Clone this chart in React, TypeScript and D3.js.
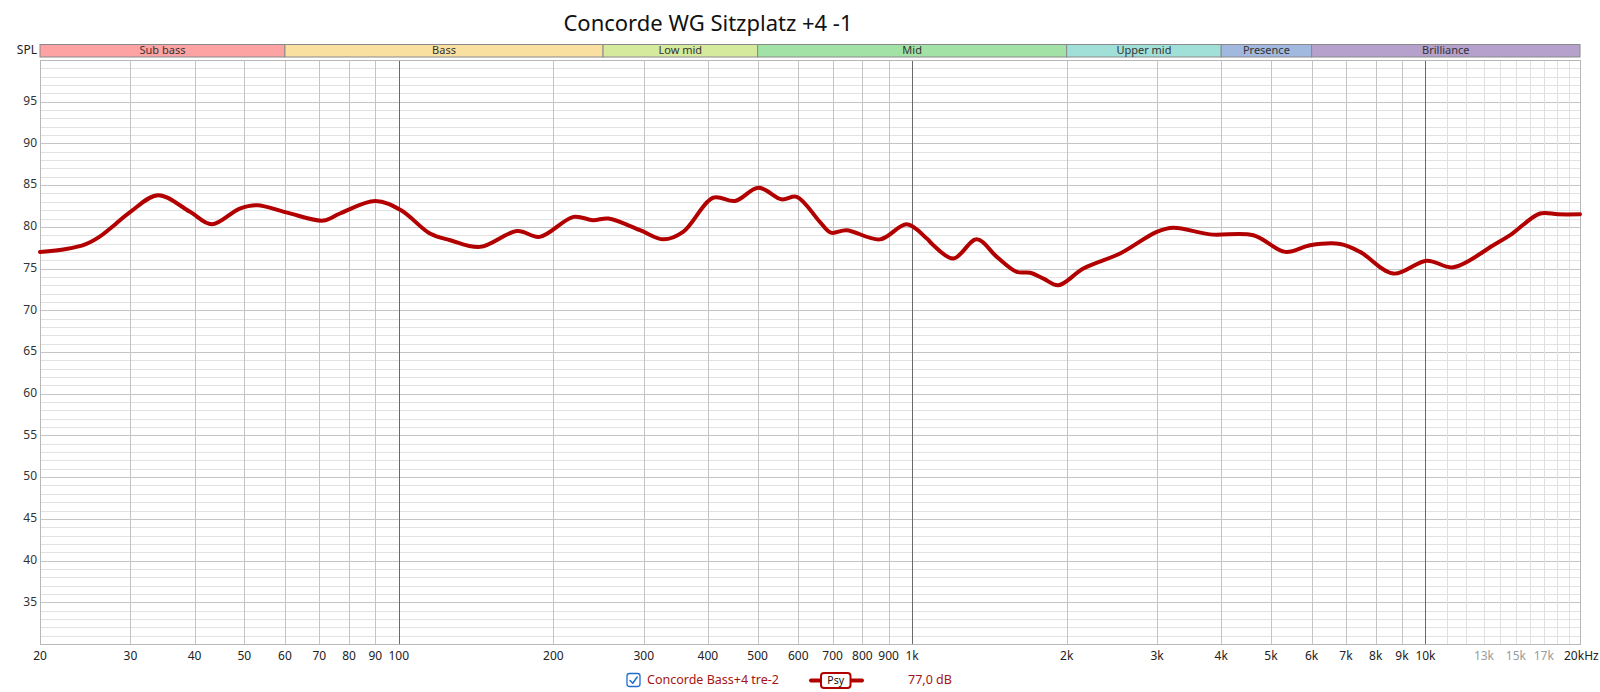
import React from "react";
import * as d3 from "d3";

const TITLE = "Concorde WG Sitzplatz +4 -1";

const FREQS = [20, 22.5, 24.5, 26.1, 27.4, 30, 34, 39.2, 43.2, 49, 53, 60.6, 71.3, 76.8, 90, 101, 115, 126, 144, 170, 188, 219, 239, 256, 295, 328, 358, 410, 452, 502, 557, 596, 661, 695, 745, 866, 976, 1068, 1100, 1203, 1336, 1462, 1599, 1697, 1802, 1926, 2156, 2541, 2996, 3229, 3806, 4621, 5330, 5962, 6819, 7459, 8662, 10057, 11330, 13560, 14620, 16720, 18120, 20000];
const SPL = [77.0, 77.35, 77.9, 78.8, 79.8, 81.8, 83.8, 81.8, 80.3, 82.2, 82.6, 81.7, 80.75, 81.6, 83.1, 82.0, 79.2, 78.4, 77.6, 79.5, 78.8, 81.2, 80.8, 81.0, 79.6, 78.5, 79.4, 83.5, 83.1, 84.7, 83.3, 83.6, 80.6, 79.3, 79.6, 78.5, 80.3, 78.6, 77.8, 76.2, 78.5, 76.4, 74.6, 74.5, 73.8, 73.0, 75.0, 76.8, 79.4, 79.9, 79.1, 79.0, 77.0, 77.8, 77.95, 77.0, 74.4, 75.95, 75.15, 77.8, 79.0, 81.6, 81.5, 81.5];

const BAND_NAMES = ["Sub bass", "Bass", "Low mid", "Mid", "Upper mid", "Presence", "Brilliance"];
const BAND_EDGES = [20, 60, 250, 500, 2000, 4000, 6000, 20000];
const BAND_COLORS = ["#fda3a3", "#f9e0a1", "#d5ea9d", "#a2e2a6", "#a0e0d8", "#a1b8df", "#b5a1cc"];

const GRID_FREQS = [20, 30, 40, 50, 60, 70, 80, 90, 100, 200, 300, 400, 500, 600, 700, 800, 900, 1000, 2000, 3000, 4000, 5000, 6000, 7000, 8000, 9000, 10000, 20000];
const MINOR_FREQS = [11000, 12000, 13000, 14000, 15000, 16000, 17000, 18000, 19000];
const DECADE_FREQS = [100, 1000, 10000];
const X_LABEL_FREQS = [20, 30, 40, 50, 60, 70, 80, 90, 100, 200, 300, 400, 500, 600, 700, 800, 900, 1000, 2000, 3000, 4000, 5000, 6000, 7000, 8000, 9000, 10000];
const X_LABELS = ["20", "30", "40", "50", "60", "70", "80", "90", "100", "200", "300", "400", "500", "600", "700", "800", "900", "1k", "2k", "3k", "4k", "5k", "6k", "7k", "8k", "9k", "10k"];
const X_GRAY_FREQS = [13000, 15000, 17000];
const X_GRAY_LABELS = ["13k", "15k", "17k"];
const Y_TICKS = [35, 40, 45, 50, 55, 60, 65, 70, 75, 80, 85, 90, 95];

const LEGEND_NAME = "Concorde Bass+4 tre-2";
const LEGEND_VALUE = "77,0 dB";

const FONT = "'Noto Sans', 'Open Sans', sans-serif";

export default function App() {
  const W = 1600, H = 692;
  const L = 40, R = 1580, T = 60, B = 644;
  const x = d3.scaleLog().domain([20, 20000]).range([L, R]);
  const y = d3.scaleLinear().domain([30, 100]).range([B, T]);

  const minorY = d3.range(31, 100).filter((v) => v % 5 !== 0);
  const majorY = d3.range(35, 100, 5);

  const line = d3
    .line<number>()
    .x((_, i) => x(FREQS[i]))
    .y((d) => y(d))
    .curve(d3.curveCatmullRom.alpha(0.5));

  const curveColor = "#b20000";

  return (
    <svg width={W} height={H} style={{ position: "absolute", left: 0, top: 0, display: "block", background: "#fff" }} fontFamily={FONT}>
      <rect x={0} y={0} width={W} height={H} fill="#fff" />
      <text x={708} y={31} textAnchor="middle" fontSize={22} fill="#111">{TITLE}</text>

      {/* band bar */}
      <text x={37} y={51} textAnchor="end" dominantBaseline="middle" fontSize={12} fill="#222">SPL</text>
      {BAND_NAMES.map((n, i) => {
        const x0 = x(BAND_EDGES[i]);
        const x1 = x(BAND_EDGES[i + 1]);
        return (
          <g key={n}>
            <rect x={x0} y={44.5} width={x1 - x0} height={12.5} fill={BAND_COLORS[i]} stroke="#8a8a8a" strokeWidth={1} />
            <text x={(x0 + x1) / 2} y={51} textAnchor="middle" dominantBaseline="middle" fontSize={11} fill="#333">{n}</text>
          </g>
        );
      })}

      {/* grid */}
      {minorY.map((v) => (
        <line key={"my" + v} x1={L} x2={R} y1={Math.round(y(v)) + 0.5} y2={Math.round(y(v)) + 0.5} stroke="#e2e2e2" strokeWidth={1} />
      ))}
      {majorY.map((v) => (
        <line key={"My" + v} x1={L} x2={R} y1={Math.round(y(v)) + 0.5} y2={Math.round(y(v)) + 0.5} stroke="#c4c4c4" strokeWidth={1} />
      ))}
      {MINOR_FREQS.map((f) => (
        <line key={"mx" + f} x1={Math.round(x(f)) + 0.5} x2={Math.round(x(f)) + 0.5} y1={T} y2={B} stroke="#e0e0e0" strokeWidth={1} />
      ))}
      {GRID_FREQS.map((f) => (
        <line key={"Mx" + f} x1={Math.round(x(f)) + 0.5} x2={Math.round(x(f)) + 0.5} y1={T} y2={B} stroke={DECADE_FREQS.includes(f) ? "#6a6a6a" : "#c4c4c4"} strokeWidth={1} />
      ))}
      <rect x={L + 0.5} y={T + 0.5} width={R - L} height={B - T} fill="none" stroke="#b8b8b8" strokeWidth={1} />

      {/* y labels */}
      {Y_TICKS.map((v) => (
        <text key={"yl" + v} x={37} y={y(v)} textAnchor="end" dominantBaseline="middle" fontSize={12} fill="#333">{v}</text>
      ))}

      {/* x labels */}
      {X_LABEL_FREQS.map((f, i) => (
        <text key={"xl" + f} x={x(f)} y={657} textAnchor="middle" dominantBaseline="middle" fontSize={12} fill="#222">{X_LABELS[i]}</text>
      ))}
      {X_GRAY_FREQS.map((f, i) => (
        <text key={"xg" + f} x={x(f)} y={657} textAnchor="middle" dominantBaseline="middle" fontSize={12} fill="#9a9a9a">{X_GRAY_LABELS[i]}</text>
      ))}
      <text x={x(20000) - 16} y={657} textAnchor="start" dominantBaseline="middle" fontSize={12} fill="#222">20kHz</text>

      {/* curve */}
      <path d={line(SPL) || ""} fill="none" stroke={curveColor} strokeWidth={4} strokeLinejoin="round" strokeLinecap="round" />

      {/* legend */}
      <rect x={627} y={673.5} width={13} height={13} rx={2.5} fill="#fff" stroke="#1e6fd0" strokeWidth={1.3} />
      <path d="M630 680.5 L632.8 683.3 L637.2 677" fill="none" stroke="#1e6fd0" strokeWidth={1.5} strokeLinecap="round" strokeLinejoin="round" />
      <text x={647} y={680.5} dominantBaseline="middle" fontSize={12.5} fill="#a31515">{LEGEND_NAME}</text>
      <line x1={811} x2={862} y1={680.5} y2={680.5} stroke={curveColor} strokeWidth={4} strokeLinecap="round" />
      <rect x={821} y={673} width={29.5} height={15} rx={3} fill="#fff" stroke={curveColor} strokeWidth={2} />
      <text x={835.7} y={681} textAnchor="middle" dominantBaseline="middle" fontSize={10.5} fill="#111">Psy</text>
      <text x={908} y={680.5} dominantBaseline="middle" fontSize={12.5} fill="#a31515">{LEGEND_VALUE}</text>
    </svg>
  );
}
